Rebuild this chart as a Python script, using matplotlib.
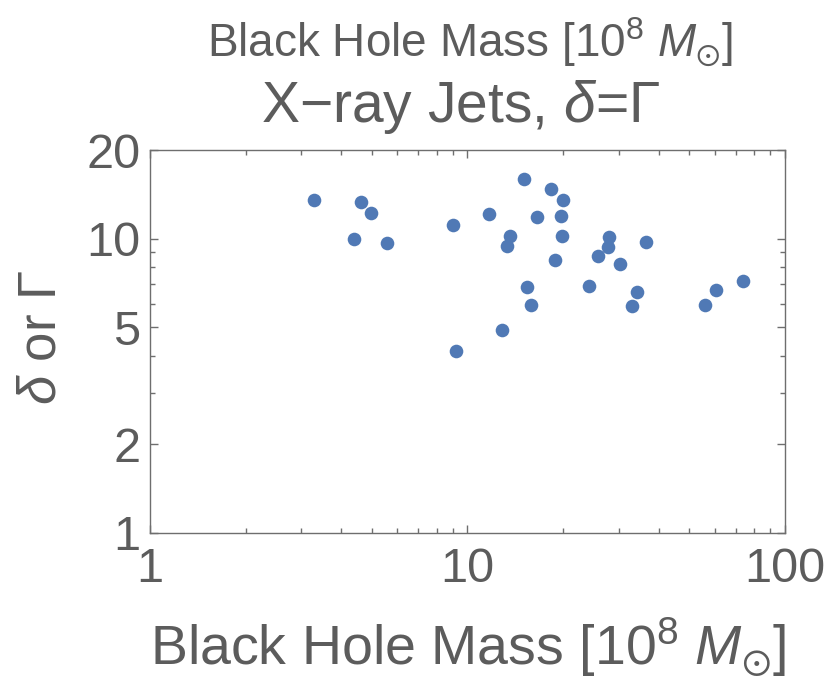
import numpy as np
import matplotlib
matplotlib.use("Agg")
import matplotlib.pyplot as plt
from matplotlib.ticker import FixedLocator, NullFormatter

plt.rcParams['font.family'] = ['Liberation Sans', 'DejaVu Sans']
plt.rcParams['mathtext.fontset'] = 'custom'
plt.rcParams['mathtext.rm'] = 'Liberation Sans'
plt.rcParams['mathtext.it'] = 'Liberation Sans:italic'
plt.rcParams['mathtext.fallback'] = 'stixsans'

# black hole mass [1e8 Msun] and Doppler/Lorentz factor for the X-ray jets
bh_mass = [3.29, 4.61, 4.95, 4.39, 5.59, 8.97, 9.22, 11.65, 13.65, 13.27,
           12.82, 15.03, 16.55, 15.4, 15.8, 18.3, 20.0, 19.7, 19.8, 18.8,
           24.2, 25.8, 27.9, 27.7, 30.2, 36.5, 34.1, 33.0, 56.1, 60.8, 73.5]
delta = [13.5, 13.3, 12.2, 9.97, 9.64, 11.15, 4.14, 12.14, 10.18, 9.42,
         4.91, 16.0, 11.8, 6.85, 5.93, 14.7, 13.5, 11.9, 10.18, 8.47,
         6.92, 8.72, 10.1, 9.40, 8.17, 9.72, 6.59, 5.92, 5.97, 6.70, 7.2]

x_major = [1, 10, 100]
x_minor = [m * d for d in (1, 10) for m in range(2, 10)]
y_major = [1, 2, 5, 10, 20]
y_minor = [3, 4, 6, 7, 8, 9]

text_col = '#5c5c5c'
frame_col = '#6e6e6e'
dot_col = '#5079b5'

fig = plt.figure(figsize=(8.25, 6.84), dpi=100)
ax = fig.add_axes([150 / 825, 151 / 684, 635 / 825, 383 / 684])

ax.plot(bh_mass, delta, 'o', color=dot_col, ms=9.8, mec='none')

ax.set_xscale('log')
ax.set_yscale('log')
ax.set_xlim(1, 100)
ax.set_ylim(1, 20)

ax.xaxis.set_major_locator(FixedLocator(x_major))
ax.xaxis.set_minor_locator(FixedLocator(x_minor))
ax.yaxis.set_major_locator(FixedLocator(y_major))
ax.yaxis.set_minor_locator(FixedLocator(y_minor))
ax.set_xticklabels([str(v) for v in x_major])
ax.set_yticklabels([str(v) for v in y_major])
ax.xaxis.set_minor_formatter(NullFormatter())
ax.yaxis.set_minor_formatter(NullFormatter())

ax.tick_params(which='both', direction='in', top=True, right=True,
               color=frame_col, width=1.0, labelcolor=text_col, labelsize=35)
ax.tick_params(which='major', length=6)
ax.tick_params(which='minor', length=3.5)
ax.tick_params(axis='x', pad=10)
ax.tick_params(axis='y', pad=7)
for sp in ax.spines.values():
    sp.set_color(frame_col)
    sp.set_linewidth(1.0)

ax.set_xlabel(r'Black Hole Mass [10$^{8}$ $M_{\odot}$]', fontsize=40,
              color=text_col, labelpad=17)
ax.set_ylabel(r'$\delta$ or Γ', fontsize=38, color=text_col)
ax.yaxis.set_label_coords(-0.131, 0.51)

fig.text(0.570, 0.939, r'Black Hole Mass [10$^{8}$ $M_{\odot}$]', fontsize=33,
         color=text_col, ha='center', va='center')
fig.text(0.558, 1 - 122 / 684, r'X−ray Jets, $\delta$=Γ', fontsize=41,
         color=text_col, ha='center', va='baseline')

fig.savefig('out.png', dpi=100)
